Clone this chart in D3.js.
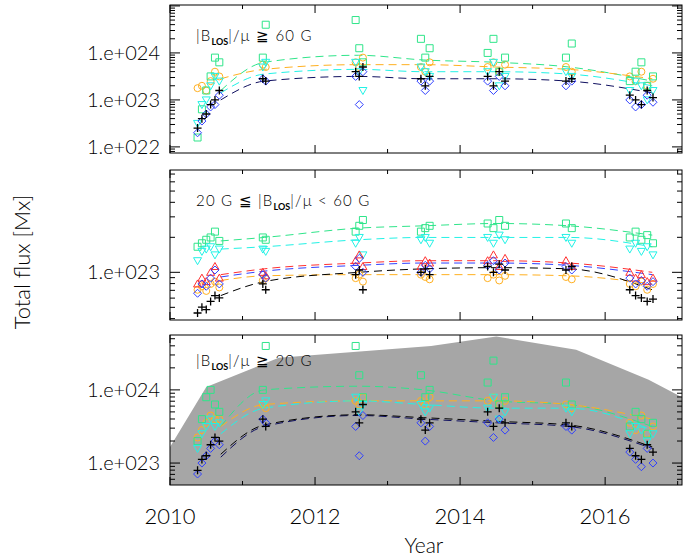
<!DOCTYPE html>
<html><head><meta charset="utf-8">
<script src="https://cdn.jsdelivr.net/npm/d3@7"></script>
<style>body{margin:0;background:#fff}text{font-family:Lato,"DejaVu Sans",sans-serif;font-weight:300}</style>
</head><body><div id="chart"></div>
<script>
var svgWidth = 695, svgHeight = 558;

// observation times and fit epochs
var times = [2010.38, 2010.44, 2010.50, 2010.56, 2010.62, 2010.68, 2011.28, 2011.32,
             2012.56, 2012.61, 2012.66, 2013.46, 2013.52, 2013.58,
             2014.38, 2014.46, 2014.54, 2014.62, 2015.46, 2015.54,
             2016.34, 2016.42, 2016.50, 2016.58, 2016.66];
var fitYears = [2010.7, 2011.3, 2012.6, 2013.5, 2014.5, 2015.5, 2016.65];
var xTicks = [2010, 2012, 2014, 2016];
var areaYears = [2010.0, 2010.5, 2011.5, 2013.6, 2014.5, 2015.6, 2016.6, 2017.1];
var areaLog = [23.22, 24.04, 24.44, 24.6, 24.73, 24.55, 24.14, 23.88];

// log10 flux, panel 1 (>= 60 G)
var p1Green = [22.2, 22.8, 23.2, 23.5, 23.9, 23.8, 23.9, 24.6, 24.7, 24.1, 23.8, 24.3, 23.9, 24.1, 24.0, 24.3, 23.6, 23.9, 23.9, 24.2, 23.4, 23.6, 23.8, 23.3, 23.5];
var p1Cyan = [22.5, 22.9, 23.0, 23.3, 23.5, 23.4, 23.7, 23.8, 23.8, 23.6, 23.2, 23.7, 23.6, 23.5, 23.6, 23.8, 23.3, 23.5, 23.6, 23.5, 23.2, 23.4, 23.3, 23.0, 23.2];
var p1Orange = [23.25, 23.3, 23.2, 23.4, 23.6, 23.5, 23.75, 23.7, 23.8, 23.7, 23.9, 23.7, 23.6, 23.8, 23.7, 23.8, 23.6, 23.75, 23.7, 23.6, 23.5, 23.4, 23.6, 23.3, 23.45];
var p1Blue = [22.3, 22.55, 22.7, 22.85, 22.9, 23.1, 23.45, 23.4, 23.5, 22.9, 23.6, 23.4, 23.2, 23.4, 23.4, 23.2, 23.5, 23.3, 23.3, 23.4, 23.0, 22.85, 22.9, 23.1, 22.95];
var p1Black = [22.4, 22.6, 22.7, 22.9, 23.0, 23.2, 23.45, 23.4, 23.6, 23.5, 23.7, 23.45, 23.3, 23.5, 23.5, 23.3, 23.6, 23.4, 23.4, 23.45, 23.1, 23.0, 22.9, 23.2, 23.05];
var p1FitGreen = [23.2, 23.8, 23.95, 23.85, 23.8, 23.7, 23.4];
var p1FitOrange = [23.45, 23.65, 23.75, 23.75, 23.7, 23.65, 23.45];
var p1FitCyan = [23.15, 23.55, 23.65, 23.6, 23.6, 23.55, 23.3];
var p1FitNavy = [23.0, 23.4, 23.5, 23.45, 23.45, 23.4, 23.15];

// panel 2 (20-60 G)
var p2Green = [23.22, 23.25, 23.28, 23.3, 23.35, 23.27, 23.3, 23.28, 23.35, 23.4, 23.45, 23.35, 23.38, 23.4, 23.42, 23.38, 23.45, 23.4, 23.42, 23.38, 23.3, 23.35, 23.28, 23.32, 23.25];
var p2Cyan = [23.1, 23.18, 23.2, 23.22, 23.15, 23.2, 23.2, 23.18, 23.25, 23.3, 23.15, 23.28, 23.3, 23.25, 23.3, 23.25, 23.32, 23.28, 23.3, 23.25, 23.2, 23.25, 23.18, 23.22, 23.15];
var p2Red = [22.9, 22.95, 22.92, 23.0, 23.05, 22.95, 23.0, 22.97, 23.1, 23.15, 23.05, 23.05, 23.1, 23.08, 23.1, 23.15, 23.05, 23.12, 23.1, 23.05, 23.0, 22.95, 22.98, 22.92, 22.95];
var p2Blue = [22.82, 22.9, 22.88, 22.95, 23.02, 22.9, 22.98, 22.95, 23.05, 23.12, 23.0, 23.0, 23.06, 23.03, 23.06, 23.1, 23.02, 23.08, 23.05, 23.02, 22.95, 22.9, 22.93, 22.88, 22.92];
var p2Orange = [22.85, 22.88, 22.84, 22.9, 22.92, 22.87, 22.93, 22.95, 22.95, 22.98, 22.92, 22.98, 22.96, 22.94, 22.95, 22.98, 22.93, 22.97, 22.96, 22.94, 22.9, 22.88, 22.92, 22.85, 22.9];
var p2Black = [22.65, 22.7, 22.68, 22.75, 22.8, 22.78, 22.9, 22.85, 22.98, 23.02, 22.85, 23.0, 23.03, 22.98, 23.05, 23.0, 23.07, 23.02, 23.02, 23.05, 22.85, 22.8, 22.78, 22.75, 22.77];
var p2FitGreen = [23.27, 23.3, 23.38, 23.4, 23.42, 23.4, 23.32];
var p2FitCyan = [23.2, 23.22, 23.28, 23.3, 23.3, 23.3, 23.22];
var p2FitRed = [22.98, 23.03, 23.08, 23.1, 23.1, 23.08, 23.0];
var p2FitBlue = [22.96, 23.01, 23.06, 23.08, 23.08, 23.06, 22.98];
var p2FitOrange = [22.93, 22.97, 22.98, 22.98, 22.98, 22.97, 22.9];
var p2FitBlack = [22.8, 22.92, 23.0, 23.03, 23.04, 23.03, 22.85];

// panel 3 (>= 20 G)
var p3Green = [23.3, 23.6, 23.9, 24.0, 23.8, 23.7, 24.0, 24.6, 24.6, 24.2, 23.9, 24.2, 23.9, 24.0, 24.1, 24.4, 23.8, 23.9, 24.1, 23.8, 23.5, 23.7, 23.6, 23.4, 23.55];
var p3Cyan = [23.2, 23.4, 23.5, 23.6, 23.5, 23.55, 23.8, 23.85, 23.9, 23.7, 23.8, 23.8, 23.7, 23.75, 23.75, 23.9, 23.6, 23.7, 23.75, 23.7, 23.4, 23.5, 23.45, 23.3, 23.4];
var p3Orange = [23.35, 23.45, 23.55, 23.65, 23.6, 23.6, 23.8, 23.75, 23.85, 23.8, 23.9, 23.85, 23.8, 23.9, 23.85, 23.9, 23.8, 23.85, 23.8, 23.75, 23.55, 23.45, 23.65, 23.4, 23.5];
var p3Blue = [22.85, 23.0, 23.1, 23.2, 23.3, 23.25, 23.6, 23.55, 23.5, 23.1, 23.65, 23.55, 23.3, 23.5, 23.55, 23.35, 23.6, 23.45, 23.5, 23.45, 23.15, 23.05, 22.95, 23.2, 23.0];
var p3Black = [22.9, 23.05, 23.1, 23.25, 23.35, 23.3, 23.6, 23.5, 23.7, 23.55, 23.8, 23.6, 23.45, 23.55, 23.7, 23.5, 23.75, 23.55, 23.55, 23.5, 23.2, 23.1, 23.05, 23.25, 23.15];
var p3FitGreen = [23.5, 24.0, 24.05, 24.0, 23.85, 23.8, 23.5];
var p3FitCyan = [23.4, 23.75, 23.85, 23.8, 23.75, 23.75, 23.45];
var p3FitOrange = [23.5, 23.8, 23.85, 23.85, 23.85, 23.8, 23.6];
var p3FitNavy = [23.08, 23.5, 23.65, 23.6, 23.55, 23.5, 23.2];
var p3FitBlack = [23.12, 23.52, 23.66, 23.62, 23.57, 23.52, 23.22];

var col = {green: '#2fe58a', cyan: '#22f2e6', orange: '#ffb020', red: '#ff3030', blue: '#3040ff', black: '#000', navy: '#101060'};

var svg = d3.select('#chart').append('svg').attr('width', svgWidth).attr('height', svgHeight);
var x = d3.scaleLinear().domain([2010, 2017.06]).range([170, 682]);

var panels = [
  {top: 5, bottom: 153, dom: [21.87, 25.02], major: [22, 23, 24],
   pts: [['orange', p1Orange, 'circle'], ['green', p1Green, 'square'], ['cyan', p1Cyan, 'tri'], ['blue', p1Blue, 'diamond'], ['black', p1Black, 'plus']],
   fits: [['green', p1FitGreen], ['orange', p1FitOrange], ['cyan', p1FitCyan], ['navy', p1FitNavy]]},
  {top: 170, bottom: 320, dom: [22.59, 23.88], major: [23],
   pts: [['green', p2Green, 'square'], ['cyan', p2Cyan, 'tri'], ['orange', p2Orange, 'circle'], ['red', p2Red, 'triup'], ['blue', p2Blue, 'diamond'], ['black', p2Black, 'plus']],
   fits: [['green', p2FitGreen], ['cyan', p2FitCyan], ['red', p2FitRed], ['blue', p2FitBlue], ['orange', p2FitOrange], ['black', p2FitBlack]]},
  {top: 335, bottom: 485, dom: [22.7, 24.75], major: [23, 24], area: true,
   pts: [['orange', p3Orange, 'circle'], ['green', p3Green, 'square'], ['cyan', p3Cyan, 'tri'], ['blue', p3Blue, 'diamond'], ['black', p3Black, 'plus']],
   fits: [['green', p3FitGreen], ['orange', p3FitOrange], ['cyan', p3FitCyan], ['navy', p3FitNavy], ['black', p3FitBlack]]}
];

function symPath(kind) {
  if (kind === 'square') return 'M-3.5,-3.5h7v7h-7z';
  if (kind === 'tri') return 'M-4,-3L4,-3L0,4z';
  if (kind === 'triup') return 'M-4,3L4,3L0,-4z';
  if (kind === 'diamond') return 'M0,-4L4,0L0,4L-4,0z';
  if (kind === 'plus') return 'M-4,0H4M0,-4V4';
  return 'M-3.5,0a3.5,3.5 0 1,0 7,0a3.5,3.5 0 1,0 -7,0';
}

panels.forEach(function(p, i) {
  var y = d3.scaleLinear().domain(p.dom).range([p.bottom, p.top]);
  var g = svg.append('g');
  g.append('clipPath').attr('id', 'clip' + i).append('rect')
    .attr('x', 170).attr('y', p.top).attr('width', 512).attr('height', p.bottom - p.top);
  var body = g.append('g').attr('clip-path', 'url(#clip' + i + ')');

  if (p.area) {
    var pts = areaYears.map(function(d, k) { return [d, areaLog[k]]; });
    body.append('path').datum(pts)
      .attr('d', d3.area().x(d => x(d[0])).y0(p.bottom).y1(d => y(d[1])))
      .attr('fill', '#a6a6a6');
  }

  p.fits.forEach(function(f) {
    body.append('path').datum(fitYears.map((d, k) => [d, f[1][k]]))
      .attr('d', d3.line().x(d => x(d[0])).y(d => y(d[1])).curve(d3.curveMonotoneX))
      .attr('fill', 'none').attr('stroke', col[f[0]]).attr('stroke-width', 1)
      .attr('stroke-dasharray', '8,5');
  });

  p.pts.forEach(function(s) {
    body.selectAll(null).data(s[1]).enter().append('path')
      .attr('transform', (d, k) => 'translate(' + x(times[k]) + ',' + y(d) + ')')
      .attr('d', symPath(s[2])).attr('fill', 'none')
      .attr('stroke', col[s[0]]).attr('stroke-width', s[2] === 'plus' ? 1.3 : 1);
  });

  // frame
  g.append('rect').attr('x', 170).attr('y', p.top).attr('width', 512).attr('height', p.bottom - p.top)
    .attr('fill', 'none').attr('stroke', '#000').attr('stroke-width', 1);

  // y ticks (log, both sides)
  var minor = [];
  for (var e = Math.floor(p.dom[0]); e < p.dom[1]; e++) {
    for (var m = 1; m < 10; m++) {
      var v = e + Math.log10(m);
      if (v > p.dom[0] && v < p.dom[1]) minor.push({v: v, major: m === 1});
    }
  }
  minor.forEach(function(t) {
    var len = t.major ? 10 : 5;
    g.append('line').attr('x1', 170).attr('x2', 170 + len).attr('y1', y(t.v)).attr('y2', y(t.v)).attr('stroke', '#000');
    g.append('line').attr('x1', 682).attr('x2', 682 - len).attr('y1', y(t.v)).attr('y2', y(t.v)).attr('stroke', '#000');
  });
  p.major.forEach(function(e) {
    g.append('text').attr('x', 160).attr('y', y(e) + 7).attr('text-anchor', 'end')
      .attr('font-size', 20).text('1.e+0' + e);
  });

  // x ticks
  d3.range(2010, 2018).forEach(function(yr) {
    var len = yr % 2 === 0 ? 8 : 4;
    g.append('line').attr('x1', x(yr)).attr('x2', x(yr)).attr('y1', p.bottom).attr('y2', p.bottom - len).attr('stroke', '#000');
    g.append('line').attr('x1', x(yr)).attr('x2', x(yr)).attr('y1', p.top).attr('y2', p.top + len).attr('stroke', '#000');
  });
});

// panel labels
function bLabel(sel, xx, yy, pre, post) {
  var t = sel.append('text').attr('x', xx).attr('y', yy).attr('font-size', 15)
    .attr('font-weight', 400).attr('letter-spacing', 1.2);
  t.append('tspan').text(pre + '|B');
  t.append('tspan').attr('font-size', 9).attr('dy', 4).attr('font-weight', 'bold').attr('letter-spacing', 0).text('LOS');
  t.append('tspan').attr('dy', -4).text('|/\u03bc ' + post);
}
bLabel(svg, 196, 41, '', '\u2267  60  G');
bLabel(svg, 196, 206, '20  G  \u2266  ', '  <  60  G');
bLabel(svg, 196, 366, '', '\u2267  20  G');

xTicks.forEach(function(yr) {
  svg.append('text').attr('x', x(yr)).attr('y', 524).attr('text-anchor', 'middle').attr('font-size', 22).text(yr);
});
svg.append('text').attr('x', x(2013.5)).attr('y', 553).attr('text-anchor', 'middle').attr('font-size', 21).text('Year');
svg.append('text').attr('transform', 'translate(30,262) rotate(-90)').attr('text-anchor', 'middle')
  .attr('font-size', 22).text('Total flux [Mx]');
</script></body></html>
